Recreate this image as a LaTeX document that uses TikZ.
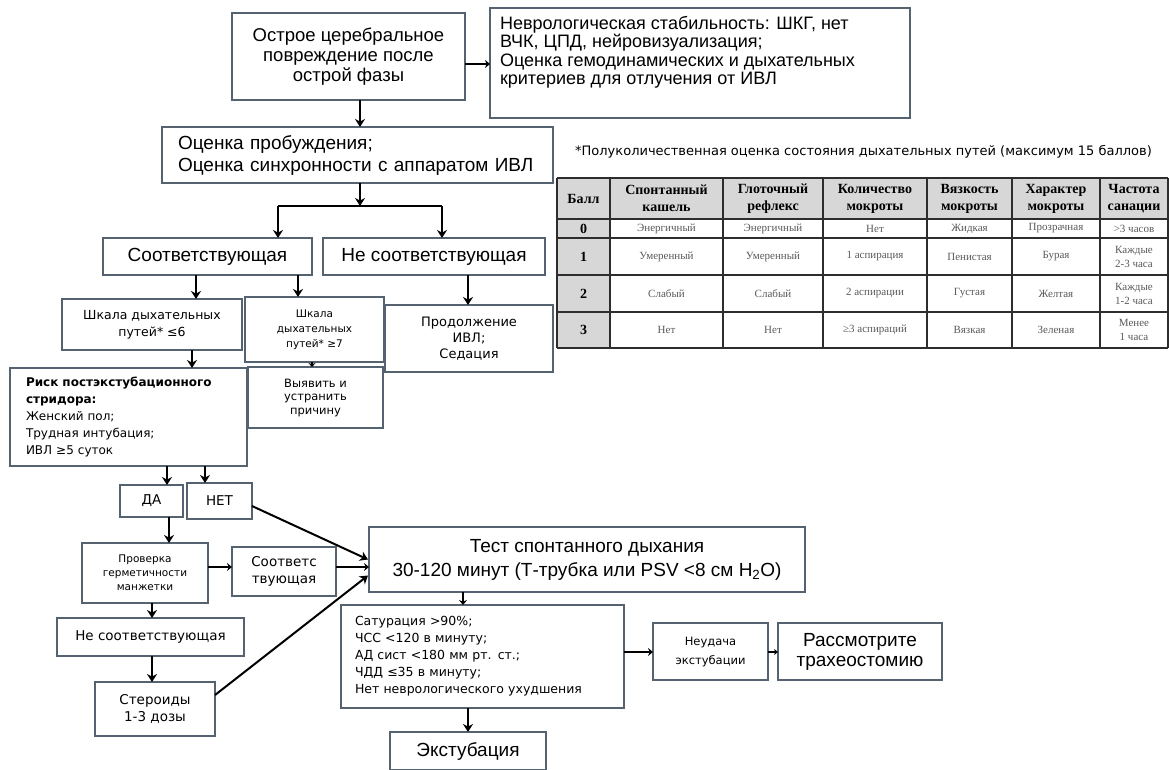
\documentclass[tikz,border=0pt]{standalone}
\usepackage{fontspec}
\setmainfont{Liberation Sans}
\newfontfamily\dvs{DejaVu Sans}
\newfontfamily\tnr{Liberation Serif}
\usetikzlibrary{arrows.meta,calc}
\definecolor{bord}{RGB}{85,98,112}
\definecolor{hdr}{RGB}{215,215,215}
\definecolor{tline}{RGB}{45,45,45}
\definecolor{ttext}{RGB}{90,90,90}
\begin{document}
\begin{tikzpicture}[x=1pt,y=-1pt,
  box/.style={draw=bord,line width=1.3pt,fill=white,inner sep=0pt,outer sep=0pt,align=center},
  arr/.style={line width=2pt,-{Stealth[length=8pt,width=10pt]}},
  sarr/.style={line width=2pt,-{Stealth[length=5pt,width=8pt]}},
  lbig/.style={font=\fontsize{19}{22}\selectfont},
  tl/.style={draw=tline,line width=1.6pt},
  hd/.style={font=\tnr\bfseries\fontsize{14}{17}\selectfont,align=center,inner sep=0pt},
  bd/.style={font=\tnr\fontsize{11}{14}\selectfont,text=ttext,align=center,inner sep=0pt}]
\useasboundingbox (0,0) rectangle (1169,769);
\fill[white] (0,0) rectangle (1169,769);
% column / row helpers
\coordinate (cx) at (360,0);
\coordinate (c196) at (196,0);
\coordinate (c192) at (192,0);
\coordinate (c298) at (298,0);
\coordinate (c312) at (312,0);
\coordinate (c468) at (468,0);
\coordinate (c167) at (167,0);
\coordinate (c205) at (205,0);
\coordinate (c169) at (169,0);
\coordinate (c152) at (152,0);
\coordinate (c463) at (463,0);
\coordinate (r64) at (0,64);
\coordinate (r567) at (0,567);
\coordinate (r652) at (0,652);

% ---------- boxes ----------
\node[box,font=\fontsize{18.5}{20}\selectfont,minimum width=233pt,minimum height=87pt] (A) at (348.5,56.5)
  {Острое церебральное\\повреждение после\\острой фазы};
\node[box,minimum width=420pt,minimum height=110pt] (B) at (700,63)
  {\parbox[c][94pt][t]{400pt}{\fontsize{18}{18.5}\selectfont\raggedright
   Неврологическая стабильность: ШКГ, нет\\ВЧК, ЦПД, нейровизуализация;\\Оценка гемодинамических и дыхательных\\критериев для отлучения от ИВЛ}};
\node[box,lbig,align=left,text width=359pt,inner xsep=16pt,minimum width=391pt,minimum height=56pt] (C) at (357.5,155)
  {Оценка пробуждения;\\Оценка синхронности с аппаратом ИВЛ};
\node[box,lbig,minimum width=209pt,minimum height=37pt] (D) at (207.5,256.5) {Соответствующая};
\node[box,lbig,minimum width=222pt,minimum height=37pt] (E) at (434,256.5) {Не соответствующая};
\node[box,font=\dvs\fontsize{12.5}{17}\selectfont,minimum width=180pt,minimum height=51pt] (F) at (152,324.5)
  {Шкала дыхательных\\путей* ≤6};
\node[box,font=\dvs\fontsize{10.5}{15}\selectfont,minimum width=139pt,minimum height=65pt] (G) at (314.5,329.5)
  {Шкала\\дыхательных\\путей* ≥7};
\node[box,font=\dvs\fontsize{11.5}{13.5}\selectfont,minimum width=135pt,minimum height=61pt] (I) at (315.5,397.5)
  {Выявить и\\устранить\\причину};
\node[box,font=\dvs\fontsize{13}{16}\selectfont,minimum width=168pt,minimum height=67pt] (H) at (469,338.5)
  {Продолжение\\ИВЛ;\\Седация};
\node[box,font=\dvs\fontsize{12}{17}\selectfont,align=left,text width=205pt,inner xsep=16pt,minimum width=237pt,minimum height=98pt] (R) at (128.5,417)
  {\textbf{Риск постэкстубационного}\\\textbf{стридора:}\\Женский пол;\\Трудная интубация;\\ИВЛ ≥5 суток};
\node[box,font=\dvs\fontsize{13.5}{16}\selectfont,minimum width=63pt,minimum height=32pt] (DA) at (151.5,501) {ДА};
\node[box,font=\dvs\fontsize{13.5}{16}\selectfont,minimum width=65pt,minimum height=36pt] (NET) at (219.5,501) {НЕТ};
\node[box,font=\dvs\fontsize{10.5}{14}\selectfont,minimum width=126pt,minimum height=60pt] (P) at (145,573)
  {Проверка\\герметичности\\манжетки};
\node[box,font=\dvs\fontsize{13.5}{17}\selectfont,minimum width=104pt,minimum height=49pt] (S) at (284,571.5)
  {Соответс\\твующая};
\node[box,font=\fontsize{19}{24}\selectfont,minimum width=436pt,minimum height=65pt] (T) at (587,559.5)
  {Тест спонтанного дыхания\\30-120 минут (Т-трубка или PSV <8 см H\textsubscript{2}O)};
\node[box,font=\dvs\fontsize{13.5}{16}\selectfont,minimum width=187pt,minimum height=38pt] (NS) at (150.5,637) {Не соответствующая};
\node[box,font=\dvs\fontsize{13.5}{17}\selectfont,minimum width=120pt,minimum height=54pt] (ST) at (155,709)
  {Стероиды\\1-3 дозы};
\node[box,font=\dvs\fontsize{12.5}{17}\selectfont,align=left,text width=255pt,inner xsep=14pt,minimum width=283pt,minimum height=103pt] (SAT) at (482.5,656.5)
  {Сатурация >90\%;\\ЧСС <120 в минуту;\\АД сист <180 мм рт. ст.;\\ЧДД ≤35 в минуту;\\Нет неврологического ухудшения};
\node[box,font=\dvs\fontsize{11.5}{19}\selectfont,minimum width=115pt,minimum height=57pt] (NU) at (710.5,651.5)
  {Неудача\\экстубации};
\node[box,font=\fontsize{19}{20}\selectfont,minimum width=164pt,minimum height=57pt] (RS) at (860,651.5)
  {Рассмотрите\\трахеостомию};
\node[box,lbig,minimum width=156pt,minimum height=38pt] (EX) at (468,751) {Экстубация};

% ---------- connectors ----------
\draw[sarr] (A.east |- r64) -- (B.west |- r64);
\draw[arr] (A.south -| cx) -- (C.north -| cx);
\coordinate (split) at (360,206);
\coordinate (sl) at (278,206);
\coordinate (sr) at (442,206);
\draw[arr] (C.south -| cx) -- (split);
\draw[line width=2pt] (sl) -- (sr);
\draw[arr] (sl) -- (D.north -| sl);
\draw[arr] (sr) -- (E.north -| sr);
\draw[arr] (D.south -| c196) -- (F.north -| c196);
\draw[arr] (D.south -| c298) -- (G.north -| c298);
\draw[arr] (E.south -| c468) -- (H.north -| c468);
\draw[line width=2pt,-{Stealth[length=4pt,width=7pt]}] (G.south -| c312) -- (I.north -| c312);
\draw[arr] (F.south -| c192) -- (R.north -| c192);
\draw[arr] (R.south -| c167) -- (DA.north -| c167);
\draw[arr] (R.south -| c205) -- (NET.north -| c205);
\draw[arr] (DA.south -| c169) -- (P.north -| c169);
\draw[sarr] (P.east |- r567) -- (S.west |- r567);
\draw[sarr] (S.east |- r567) -- (T.west |- r567);
\draw[arr] ($(NET.east)+(0,5)$) -- ($(T.west)+(-1,0)$);
\draw[arr] ($(ST.east)+(0,-14)$) -- ($(T.west)+(-1,16)$);
\draw[arr] (P.south -| c152) -- (NS.north -| c152);
\draw[arr] (NS.south -| c152) -- (ST.north -| c152);
\draw[sarr] (T.south -| c463) -- (SAT.north -| c463);
\draw[sarr] (SAT.east |- r652) -- (NU.west |- r652);
\draw[line width=1.5pt,-{Stealth[length=4pt,width=6pt]}] (NU.east |- r652) -- (RS.west |- r652);
\draw[arr] (SAT.south -| c468) -- (EX.north -| c468);

% ---------- table ----------
\node[font=\dvs\fontsize{13}{15}\selectfont,anchor=west,inner sep=0pt] (title) at (575,152)
  {*Полуколичественная оценка состояния дыхательных путей (максимум 15 баллов)};
\fill[hdr] (557,178) rectangle (1168,219);
\fill[hdr] (557,219) rectangle (610,348);
\foreach \y in {178,219,238,275,312,348} \draw[tl] (557,\y) -- (1168,\y);
\foreach \x in {557,610,723,823,927,1012,1100,1168} \draw[tl] (\x,178) -- (\x,348);
\foreach \x/\t [count=\i] in {583.5/{Балл},666.5/{Спонтанный\\кашель},773/{Глоточный\\рефлекс},875/{Количество\\мокроты},969.5/{Вязкость\\мокроты},1056/{Характер\\мокроты},1134/{Частота\\санации}}
  \node[hd] (h\i) at (\x,198.5) {\t};
\foreach \y/\t [count=\i] in {228.5/0,256.5/1,293.5/2,330/3}
  \node[hd] (n\i) at (583.5,\y) {\t};
\foreach \x/\t [count=\i] in {666.5/{Энергичный},773/{Энергичный},875/{Нет},969.5/{Жидкая},1056/{Прозрачная},1134/{>3 часов}}
  \node[bd] (a\i) at (\x,228.5) {\t};
\foreach \x/\t [count=\i] in {666.5/{Умеренный},773/{Умеренный},875/{1 аспирация},969.5/{Пенистая},1056/{Бурая},1134/{Каждые\\2-3 часа}}
  \node[bd] (b\i) at (\x,256.5) {\t};
\foreach \x/\t [count=\i] in {666.5/{Слабый},773/{Слабый},875/{2 аспирации},969.5/{Густая},1056/{Желтая},1134/{Каждые\\1-2 часа}}
  \node[bd] (c\i) at (\x,293.5) {\t};
\foreach \x/\t [count=\i] in {666.5/{Нет},773/{Нет},875/{≥3 аспираций},969.5/{Вязкая},1056/{Зеленая},1134/{Менее\\1 часа}}
  \node[bd] (d\i) at (\x,330) {\t};
\end{tikzpicture}
\end{document}
